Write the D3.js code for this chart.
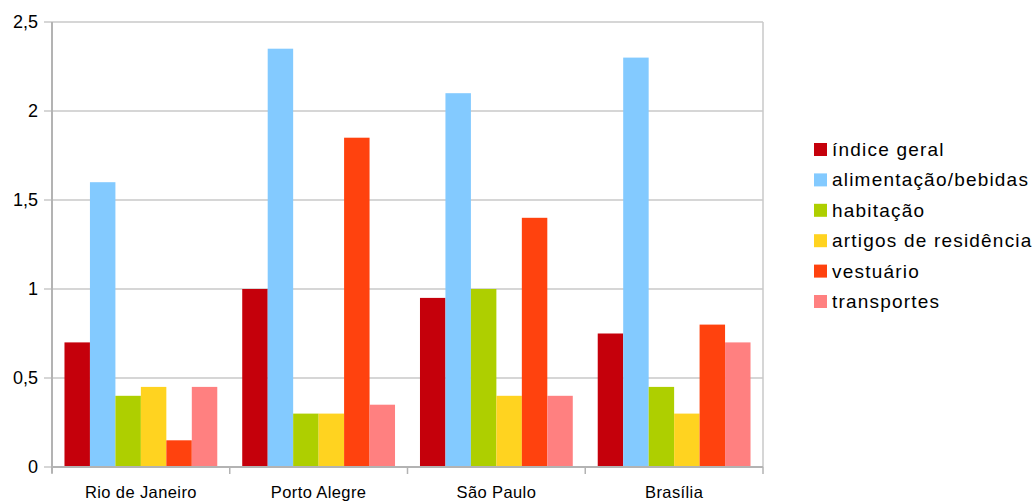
<!DOCTYPE html>
<html><head><meta charset="utf-8">
<script src="https://cdn.jsdelivr.net/npm/d3@7"></script>
<style>body{margin:0;background:#fff;} svg{display:block;}</style>
</head><body>
<svg id="c" width="1035" height="501"></svg>
<script>
const categories = ["Rio de Janeiro", "Porto Alegre", "São Paulo", "Brasília"];
const seriesNames = ["índice geral", "alimentação/bebidas", "habitação", "artigos de residência", "vestuário", "transportes"];
const indiceGeral = [0.7, 1.0, 0.95, 0.75];
const alimentacao = [1.6, 2.35, 2.1, 2.3];
const habitacao = [0.4, 0.3, 1.0, 0.45];
const artigos = [0.45, 0.3, 0.4, 0.3];
const vestuario = [0.15, 1.85, 1.4, 0.8];
const transportes = [0.45, 0.35, 0.4, 0.7];
const colors = ["#c5000b", "#83caff", "#aecf00", "#ffd320", "#ff420e", "#ff8080"];
const yTicks = [0, 0.5, 1, 1.5, 2, 2.5];
const yTickLabels = ["0", "0,5", "1", "1,5", "2", "2,5"];

const series = [indiceGeral, alimentacao, habitacao, artigos, vestuario, transportes];
const svg = d3.select("#c");
const L = 52, R = 763, T = 22, B = 467;
const x = d3.scaleBand().domain(categories).range([L, R]).padding(0);
const xs = d3.scaleBand().domain(d3.range(series.length)).range([0, x.bandwidth()]).paddingInner(0).paddingOuter(0.49);
const y = d3.scaleLinear().domain([0, 2.5]).range([B, T]);
const grid = "#c8c8c8", axisC = "#b3b3b3";

svg.append("g").selectAll("line").data(yTicks).join("line")
  .attr("x1", L - 8).attr("x2", R).attr("y1", d => y(d)).attr("y2", d => y(d))
  .attr("stroke", grid).attr("stroke-width", 1.5);

categories.forEach((c, ci) => {
  svg.append("g").selectAll("rect").data(series.map((s, si) => ({si, v: s[ci]}))).join("rect")
    .attr("x", d => x(c) + xs(d.si)).attr("width", xs.bandwidth())
    .attr("y", d => y(d.v)).attr("height", d => B - y(d.v))
    .attr("fill", d => colors[d.si]);
});

svg.append("line").attr("x1", L).attr("x2", L).attr("y1", T).attr("y2", B + 6).attr("stroke", axisC).attr("stroke-width", 2);
svg.append("line").attr("x1", R).attr("x2", R).attr("y1", T).attr("y2", B).attr("stroke", grid).attr("stroke-width", 1.5);
svg.append("line").attr("x1", L).attr("x2", R).attr("y1", B).attr("y2", B).attr("stroke", axisC).attr("stroke-width", 2);
const bounds = categories.map(c => x(c)).concat([R]);
svg.append("g").selectAll("line").data(bounds).join("line")
  .attr("x1", d => d).attr("x2", d => d).attr("y1", B).attr("y2", B + 7)
  .attr("stroke", axisC).attr("stroke-width", 1.5);

svg.append("g").selectAll("text").data(yTicks).join("text")
  .attr("x", 38).attr("y", d => y(d) + 6).attr("text-anchor", "end")
  .attr("font-family", "Liberation Sans, Arial, sans-serif").attr("font-size", 18)
  .attr("fill", "#000").text((d, i) => yTickLabels[i]);

svg.append("g").selectAll("text").data(categories).join("text")
  .attr("x", d => x(d) + x.bandwidth() / 2).attr("y", 498).attr("text-anchor", "middle")
  .attr("font-family", "Liberation Sans, Arial, sans-serif").attr("font-size", 16.5)
  .attr("letter-spacing", 0.4).attr("fill", "#000").text(d => d);

const lg = svg.append("g");
seriesNames.forEach((n, i) => {
  const yy = 149 + i * 30.4;
  lg.append("rect").attr("x", 814).attr("y", yy - 6).attr("width", 13).attr("height", 13).attr("fill", colors[i]);
  lg.append("text").attr("x", 832).attr("y", yy + 7)
    .attr("font-family", "Liberation Sans, Arial, sans-serif").attr("font-size", 19)
    .attr("letter-spacing", 1.2).attr("fill", "#000").text(n);
});
</script>
</body></html>
